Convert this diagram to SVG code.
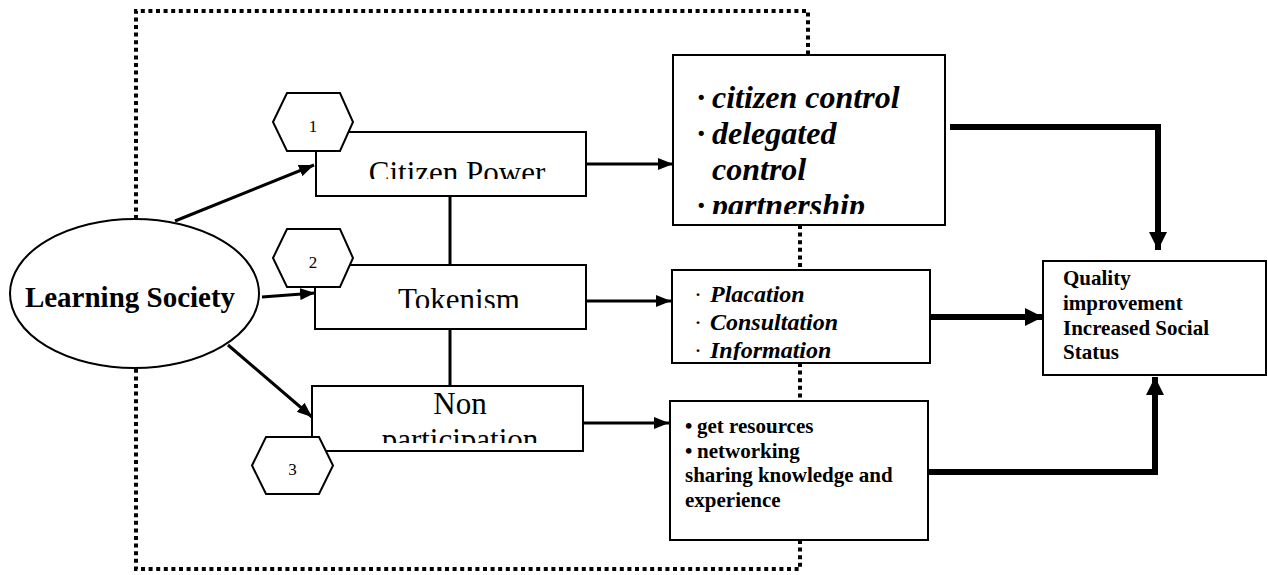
<svg xmlns="http://www.w3.org/2000/svg" width="1268" height="575" viewBox="0 0 1268 575" font-family="'Liberation Serif', 'DejaVu Serif', serif">
  <defs>
    <style>
      .box { fill: #fff; stroke: #000; stroke-width: 2; }
      .hex { fill: #fff; stroke: #000; stroke-width: 2; }
      .link { fill: none; stroke: #000; stroke-width: 3; }
      .thick { fill: none; stroke: #000; stroke-width: 6; }
      .frame { fill: none; stroke: #000; stroke-width: 4; stroke-dasharray: 4 3.6; }
      text { font-family: 'Liberation Serif', 'DejaVu Serif', serif; fill: #000; }
      .label { font-size: 31px; text-anchor: middle; }
      .num { font-size: 17px; text-anchor: middle; }
      .bi32 { font-size: 32px; font-weight: bold; font-style: italic; }
      .bi24 { font-size: 24px; font-weight: bold; font-style: italic; }
      .b21 { font-size: 21px; font-weight: bold; }
    </style>
    <marker id="head" markerUnits="userSpaceOnUse" markerWidth="15" markerHeight="12" refX="15" refY="6" orient="auto">
      <path d="M0,0 L15,6 L0,12 z" fill="#000"/>
    </marker>
    <marker id="headBig" markerUnits="userSpaceOnUse" markerWidth="18" markerHeight="18" refX="18" refY="9" orient="auto">
      <path d="M0,0 L18,9 L0,18 z" fill="#000"/>
    </marker>
    <clipPath id="clipCitizen"><rect x="317" y="133" width="268" height="46"/></clipPath>
    <clipPath id="clipToken"><rect x="316" y="266" width="269" height="42"/></clipPath>
    <clipPath id="clipNon"><rect x="313" y="387" width="269" height="56"/></clipPath>
    <clipPath id="clipLevels"><rect x="674" y="56" width="270" height="158"/></clipPath>
    <clipPath id="clipTokens"><rect x="673" y="271" width="256" height="89"/></clipPath>
  </defs>

  <!-- dotted boundary around the participation area -->
  <path class="frame" d="M136,219 V11 H808 V55 M800,225 V270 M800,363 V401 M800,540 V569 H136 V368"/>

  <!-- connectors -->
  <g id="connectors">
    <path class="link" d="M175,221 L314,165" marker-end="url(#head)"/>
    <path class="link" d="M262,297 L315,293" marker-end="url(#head)"/>
    <path class="link" d="M228,345 L312,417" marker-end="url(#head)"/>
    <path class="link" d="M450,196 V265"/>
    <path class="link" d="M450,329 V386"/>
    <path class="link" d="M586,164 H673" marker-end="url(#head)"/>
    <path class="link" d="M587,301 H671" marker-end="url(#head)"/>
    <path class="link" d="M580,423 H669" marker-end="url(#head)"/>
    <path class="thick" d="M950,127 H1158 V250" marker-end="url(#headBig)"/>
    <path class="thick" d="M930,317 H1043" marker-end="url(#headBig)"/>
    <path class="thick" d="M928,472 H1155 V377" marker-end="url(#headBig)"/>
  </g>

  <g id="learning-society">
    <ellipse class="box" cx="134.5" cy="293.5" rx="124.5" ry="74.5"/>
    <text x="130" y="307" font-size="29" font-weight="bold" text-anchor="middle">Learning Society</text>
  </g>

  <g id="citizen-power">
    <rect class="box" x="316" y="132" width="270" height="64"/>
    <text class="label" x="457" y="183" clip-path="url(#clipCitizen)">Citizen Power</text>
  </g>

  <g id="tokenism">
    <rect class="box" x="315" y="265" width="271" height="64"/>
    <text class="label" x="459" y="310" clip-path="url(#clipToken)">Tokenism</text>
  </g>

  <g id="non-participation">
    <rect class="box" x="312" y="386" width="271" height="65"/>
    <text class="label" clip-path="url(#clipNon)"><tspan x="460" y="414">Non</tspan><tspan x="460" y="450">participation</tspan></text>
  </g>

  <g id="hex-1">
    <polygon class="hex" points="273,122 287,93 340,93 353,122 340,151 287,151"/>
    <text class="num" x="313" y="132">1</text>
  </g>
  <g id="hex-2">
    <polygon class="hex" points="273,258 287,229 340,229 353,258 340,287 287,287"/>
    <text class="num" x="313" y="268">2</text>
  </g>
  <g id="hex-3">
    <polygon class="hex" points="252,465.5 266,437 319,437 333,465.5 319,494 266,494"/>
    <text class="num" x="292.5" y="475">3</text>
  </g>

  <g id="citizen-levels">
    <rect class="box" x="673" y="55" width="272" height="170"/>
    <g clip-path="url(#clipLevels)">
      <text class="bi32" x="697" y="108" font-style="normal">·</text>
      <text class="bi32" x="712" y="108">citizen control</text>
      <text class="bi32" x="697" y="144" font-style="normal">·</text>
      <text class="bi32" x="712" y="144">delegated</text>
      <text class="bi32" x="712" y="180">control</text>
      <text class="bi32" x="697" y="216" font-style="normal">·</text>
      <text class="bi32" x="712" y="216">partnership</text>
    </g>
  </g>

  <g id="tokenism-levels">
    <rect class="box" x="672" y="270" width="258" height="93"/>
    <g clip-path="url(#clipTokens)">
      <text x="694" y="302" font-size="24">·</text>
      <text class="bi24" x="710" y="302">Placation</text>
      <text x="694" y="330" font-size="24">·</text>
      <text class="bi24" x="710" y="330">Consultation</text>
      <text x="694" y="358" font-size="24">·</text>
      <text class="bi24" x="710" y="358">Information</text>
    </g>
  </g>

  <g id="non-participation-outcomes">
    <rect class="box" x="670" y="401" width="258" height="139"/>
    <text class="b21" x="685" y="433">•</text>
    <text class="b21" x="697" y="433">get resources</text>
    <text class="b21" x="685" y="457.5">•</text>
    <text class="b21" x="697" y="457.5">networking</text>
    <text class="b21" x="685" y="482">sharing knowledge and</text>
    <text class="b21" x="685" y="507">experience</text>
  </g>

  <g id="quality">
    <rect class="box" x="1043" y="261" width="223" height="114"/>
    <text class="b21" x="1063" y="285">Quality</text>
    <text class="b21" x="1063" y="310">improvement</text>
    <text class="b21" x="1063" y="335">Increased Social</text>
    <text class="b21" x="1063" y="359">Status</text>
  </g>
</svg>
